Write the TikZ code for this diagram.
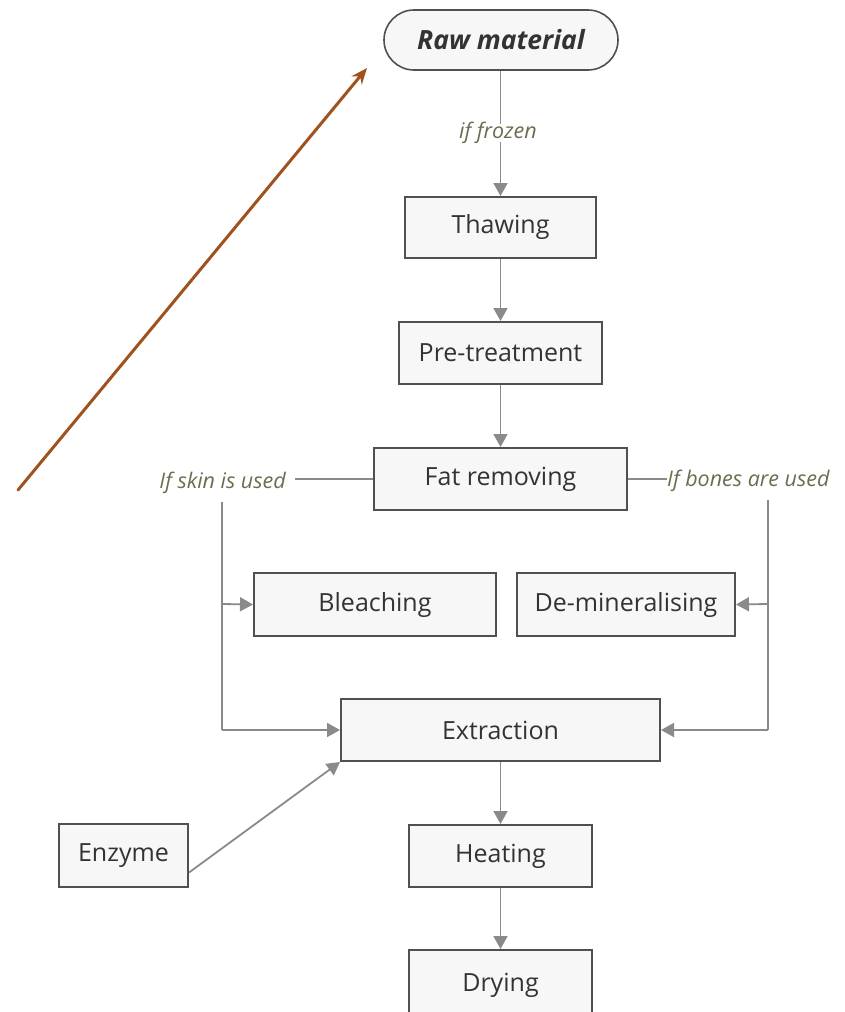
\documentclass[tikz,border=0pt]{standalone}
\usepackage{fontspec}
\setmainfont{Open Sans}
\usetikzlibrary{arrows.meta}
\definecolor{boxfill}{HTML}{F7F7F7}
\definecolor{boxdraw}{HTML}{505050}
\definecolor{conn}{HTML}{8A8A8A}
\definecolor{labcol}{HTML}{6E6C4E}
\definecolor{brownarr}{HTML}{A0521E}
\tikzset{
  stepbox/.style={draw=boxdraw, fill=boxfill, line width=2pt, inner sep=0pt, font=\fontsize{25}{29}\selectfont, text=black!80},
  startbox/.style={draw=boxdraw, fill=boxfill, line width=1.6pt, rounded corners=30pt, inner sep=0pt, font=\fontsize{26.5}{30}\selectfont\bfseries\itshape, text=black!80},
  lab/.style={font=\fontsize{21.5}{25}\selectfont\itshape, text=labcol, inner sep=1pt},
  conn/.style={draw=conn, line width=1.8pt},
  arr/.style={conn, -{Triangle[length=13pt,width=14pt]}},
}
\begin{document}
\begin{tikzpicture}[x=1pt,y=-1pt]
\useasboundingbox (0,0) rectangle (844,1012);
\clip (0,0) rectangle (844,1012);
% nodes
\node[startbox, minimum width=234pt, minimum height=60pt] (raw) at (501,40) {Raw material};
\node[stepbox, minimum width=191pt, minimum height=61pt] (thaw) at (500.5,227.5) {Thawing};
\node[stepbox, minimum width=203pt, minimum height=62pt] (pre) at (500.5,353) {Pre-treatment};
\node[stepbox, minimum width=253pt, minimum height=62pt] (fat) at (500.5,479) {Fat removing};
\node[stepbox, minimum width=242pt, minimum height=63pt] (bleach) at (375,604.5) {Bleaching};
\node[stepbox, minimum width=218pt, minimum height=63pt] (demin) at (626,604.5) {De-mineralising};
\node[stepbox, minimum width=319pt, minimum height=62pt] (extr) at (500.5,730) {Extraction};
\node[stepbox, minimum width=129pt, minimum height=63pt] (enz) at (123.5,855.5) {Enzyme};
\node[stepbox, minimum width=183pt, minimum height=62pt] (heat) at (500.5,856) {Heating};
\node[stepbox, minimum width=183pt, minimum height=70pt] (dry) at (500.5,985) {Drying};
% labels
\node[lab] (frozen) at (498,133) {if frozen};
\node[lab, anchor=east] (skin) at (287,483) {If skin is used};
\node[lab, anchor=west] (bones) at (666,481) {If bones are used};
\coordinate (skintop) at (222,502);
\coordinate (skinmid) at (222,604);
\coordinate (skinbot) at (222,730);
\coordinate (bonetop) at (768,500);
\coordinate (bonemid) at (768,604);
\coordinate (bonebot) at (768,730);
% connectors
\draw[conn] (raw.south -| thaw.north) -- ([yshift=-3pt]frozen.north -| thaw.north);
\draw[arr] ([yshift=3pt]frozen.south -| thaw.north) -- (thaw.north);
\draw[arr] (thaw.south) -- (pre.north);
\draw[arr] (pre.south) -- (fat.north);
\draw[conn] (fat.west) -- ([xshift=8pt]skin.east |- fat.west);
\draw[conn] (fat.east) -- ([xshift=1pt]bones.west |- fat.east);
\draw[conn] (skintop) -- (skinbot);
\draw[arr] (skinmid) -- (bleach.west);
\draw[arr] (skinbot) -- (extr.west);
\draw[conn] (bonetop) -- (bonebot);
\draw[arr] (bonemid) -- (demin.east);
\draw[arr] (bonebot) -- (extr.east);
\draw[arr] ([yshift=-17pt]enz.east) -- (extr.south west);
\draw[arr] (extr.south) -- (heat.north);
\draw[arr] (heat.south) -- (dry.north);
% brown arrow
\coordinate (bstart) at (18,490);
\coordinate (bend) at (367,68);
\draw[draw=brownarr, line width=3pt, line cap=round, -{Stealth[length=16pt,width=13pt]}] (bstart) -- (bend);
\end{tikzpicture}
\end{document}
